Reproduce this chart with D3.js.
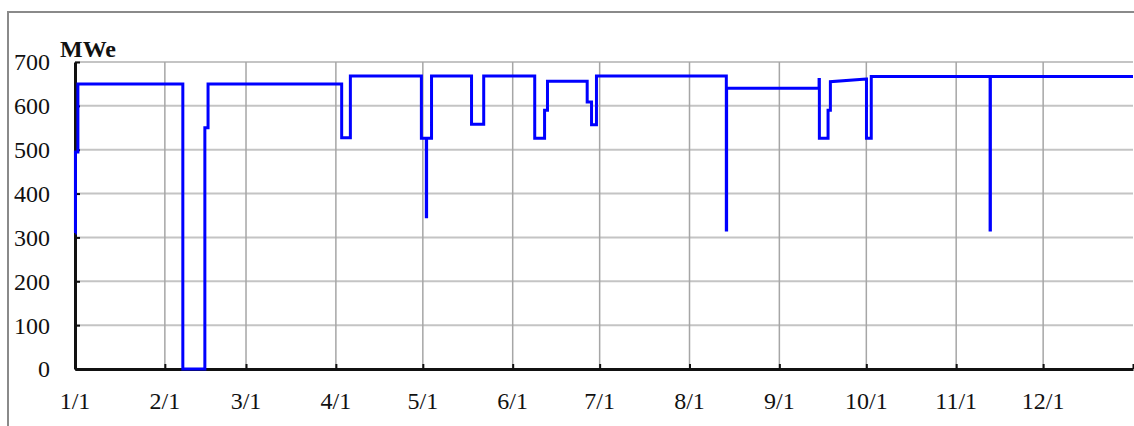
<!DOCTYPE html>
<html>
<head>
<meta charset="utf-8">
<script src="https://cdn.jsdelivr.net/npm/d3@7"></script>
<style>
	html, body { margin: 0; padding: 0; background: #fff; }
	svg { display: block; }
	text { font-family: "Liberation Serif", "Times New Roman", serif; fill: #111; }
</style>
</head>
<body>
<div id="chart"></div>
<script>
	// day of year (fractional) where the output level changes, and the level in MWe
	var stepDays = [0.1, 0.15, 1.0, 37.2, 44.8, 45.9, 92.0, 95.0, 119.5, 121.2, 121.3, 123.0,
		136.8, 141.0, 158.6, 162.0, 163.0, 176.7, 178.2, 179.9, 224.7, 224.8, 256.7, 256.8,
		259.8, 260.6, 273.0, 273.05, 274.7, 315.7, 315.8, 365];
	var stepValues = [310, 495, 650, 0, 550, 650, 527, 668, 526, 347, 526, 668,
		558, 668, 526, 590, 656, 609, 557, 668, 317, 640, 660, 526,
		590, 655, 661, 526, 667, 317, 667, 667];
	// segments that slope to the next point instead of stepping
	var rampIndex = [25];
	var yTicks = [0, 100, 200, 300, 400, 500, 600, 700];

(function() {
	"use strict";
	var yearStart = Date.UTC(2001, 0, 1);

	var width = 1134, height = 426;
	var mLeft = 75, mRight = 1133, mTop = 62, mBottom = 369;

	var svg = d3.select("#chart").append("svg")
		.attr("width", width).attr("height", height);

	// frame
	svg.append("rect").attr("x", 8).attr("y", 12)
		.attr("width", 1200).attr("height", 500)
		.attr("fill", "none").attr("stroke", "#8a8a8a").attr("stroke-width", 2);

	var x = d3.scaleUtc()
		.domain([new Date(yearStart), new Date(Date.UTC(2002, 0, 1))])
		.range([mLeft, mRight]);
	var y = d3.scaleLinear().domain([0, 700]).range([mBottom, mTop]);

	function dayToDate(d) {
		return new Date(yearStart + d * 864e5);
	}

	var months = x.ticks(d3.utcMonth.every(1));
	var fmt = d3.utcFormat("%-m/%-d");

	// horizontal grid
	svg.append("g").selectAll("line").data(yTicks.filter(function(t) { return t > 0; }))
		.enter().append("line")
		.attr("x1", mLeft).attr("x2", mRight)
		.attr("y1", function(d) { return y(d); }).attr("y2", function(d) { return y(d); })
		.attr("stroke", "#c4c4c4").attr("stroke-width", 2);

	// vertical grid
	svg.append("g").selectAll("line").data(months.slice(1, 12))
		.enter().append("line")
		.attr("x1", function(d) { return x(d); }).attr("x2", function(d) { return x(d); })
		.attr("y1", mTop).attr("y2", mBottom)
		.attr("stroke", "#a6a6a6").attr("stroke-width", 1.5);

	// axes
	var yAxis = d3.axisLeft(y).tickValues(yTicks).tickSizeInner(-5).tickSizeOuter(0).tickFormat("");
	var gy = svg.append("g").attr("transform", "translate(" + mLeft + ",0)").call(yAxis);
	var xAxis = d3.axisBottom(x).tickValues(months).tickSizeInner(-5).tickSizeOuter(0).tickFormat("");
	var gx = svg.append("g").attr("transform", "translate(0," + mBottom + ")").call(xAxis);
	[gy, gx].forEach(function(g) {
		g.select(".domain").attr("stroke", "#111").attr("stroke-width", 3);
		g.selectAll(".tick line").attr("stroke", "#111").attr("stroke-width", 2);
	});

	// tick labels
	svg.append("g").selectAll("text").data(yTicks).enter().append("text")
		.attr("x", 50).attr("y", function(d) { return y(d); })
		.attr("dy", "0.35em").attr("text-anchor", "end")
		.attr("font-size", 24)
		.text(function(d) { return d; });
	svg.append("g").selectAll("text").data(months.slice(0, 12)).enter().append("text")
		.attr("x", function(d) { return x(d); }).attr("y", 409)
		.attr("text-anchor", "middle").attr("font-size", 24)
		.text(function(d) { return fmt(d); });

	svg.append("text").attr("x", 60).attr("y", 57)
		.attr("font-size", 24).attr("font-weight", "bold")
		.text("MWe");

	// build the step path vertices
	var pts = [];
	stepDays.forEach(function(d, i) {
		pts.push([d, stepValues[i]]);
		if (i < stepDays.length - 1 && rampIndex.indexOf(i) < 0) {
			pts.push([stepDays[i + 1], stepValues[i]]);
		}
	});

	var line = d3.line()
		.x(function(p) { return x(dayToDate(p[0])); })
		.y(function(p) { return y(p[1]); });

	svg.append("path").datum(pts)
		.attr("d", line)
		.attr("fill", "none").attr("stroke", "#0000ff").attr("stroke-width", 3);
})();
</script>
</body>
</html>
